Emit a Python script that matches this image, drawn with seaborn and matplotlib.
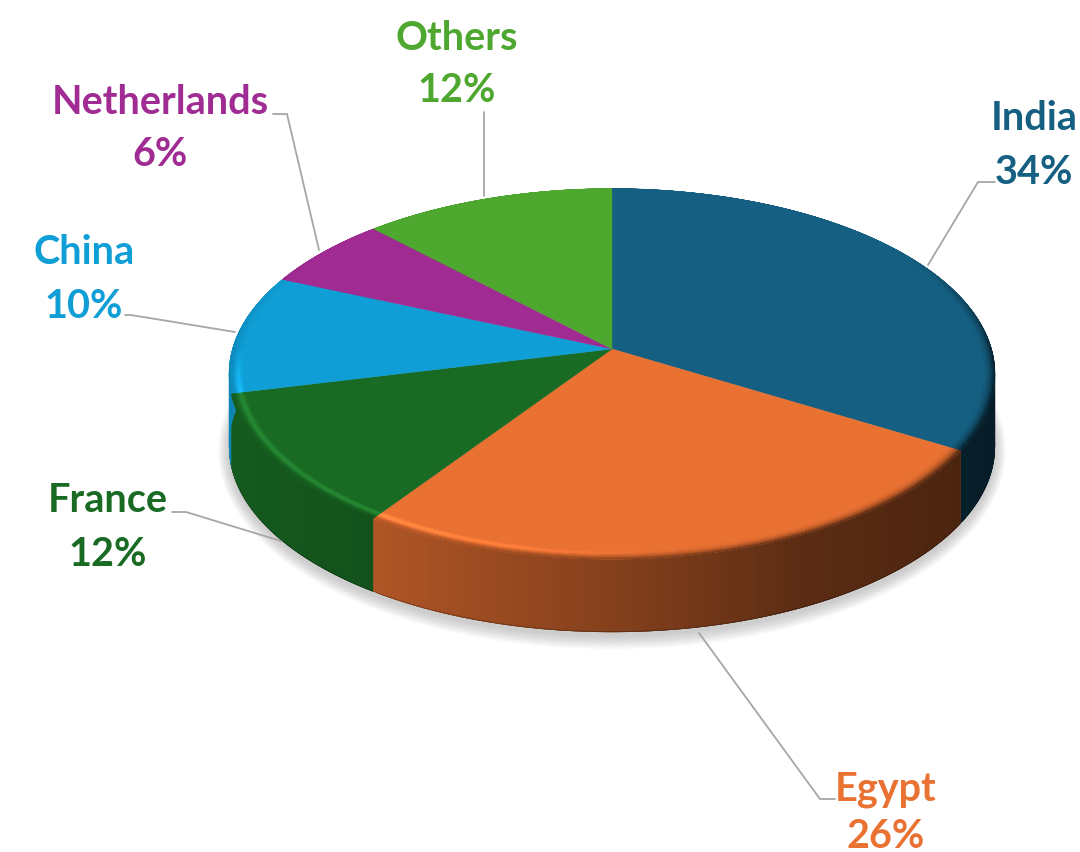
import numpy as np
import matplotlib
matplotlib.use("Agg")
import matplotlib.pyplot as plt
from matplotlib.collections import PolyCollection
from matplotlib.colors import to_rgb
import seaborn as sns

categories = ["India", "Egypt", "France", "China", "Netherlands", "Others"]
shares = [33.7, 25.75, 11.75, 10.4, 6.3, 12.1]
slice_colors = ["#156082", "#E97132", "#196B24", "#0F9ED5", "#A02B93", "#4EA72E"]

sns.set_theme(style="white")
plt.rcParams["font.family"] = ["Lato", "DejaVu Sans"]
palette = sns.color_palette(slice_colors)

W, H = 1080, 852
CX, CY, RX, RY, K, DEPTH = 612.0, 349.0, 379.6, 182.0, 0.134, 73.0


def project(theta_deg, r=1.0, drop=0.0):
    th = np.radians(theta_deg)
    u, v = r * np.cos(th), r * np.sin(th)
    s = 1.0 / (1.0 + K * v)
    return np.column_stack([CX + RX * u * s, CY + drop - RY * v * s])


def arc(t1, t2, step=0.5):
    n = max(2, int(abs(t2 - t1) / step) + 1)
    return np.linspace(t1, t2, n)


def side_factor(theta_deg):
    u = np.cos(np.radians(theta_deg))
    return np.interp(u, [-1, -0.6, 0, 0.45, 1], [0.85, 0.77, 0.57, 0.39, 0.30])


fig = plt.figure(figsize=(W / 100, H / 100), dpi=100)
ax = fig.add_axes([0, 0, 1, 1])
wedges, _ = ax.pie(shares, startangle=90, counterclock=False, colors=palette, radius=1)
spans = [(w.theta1, w.theta2) for w in wedges]
for w in wedges:
    w.remove()
ax.set_aspect("auto")
ax.set_xlim(0, W)
ax.set_ylim(H, 0)
ax.axis("off")

# soft shadow under the disc
ring = arc(0, 360, 2)
for i in range(14):
    pts = project(ring, 1.0, DEPTH)
    cx0, cy0 = CX, CY + DEPTH + 25
    pts = np.column_stack([cx0 + (pts[:, 0] - cx0) * (1 + 0.0022 * i),
                           cy0 + (pts[:, 1] - cy0) * (1 + 0.0055 * i) + 4])
    ax.fill(pts[:, 0], pts[:, 1], color="#606060", alpha=0.022, lw=0, zorder=1)

# extruded side: overlapping strips, so no seams show between them
levels = [0.0, 0.955, 1.0]
for j in range(2):
    quads, cols = [], []
    for (t1, t2), col in zip(spans, palette):
        base = np.array(to_rgb(col))
        th = arc(t1, t2, 0.5)
        for a, b in zip(th[:-1], th[1:]):
            f = side_factor((a + b) / 2)
            ends = np.array([a, min(b + 1.0, t2)])
            p = project(ends, 1.0, DEPTH * levels[j])
            q = project(ends, 1.0, DEPTH * levels[j + 1] + (0 if j else 2))
            quads.append([p[0], p[1], q[1], q[0]])
            cols.append(base * f * (1.0 if j == 0 else 0.78))
    ax.add_collection(PolyCollection(quads, facecolors=cols, linewidths=0, zorder=2 + 0.1 * (1 - j)))

# flat top faces
for (t1, t2), col in zip(spans, palette):
    th = arc(t1, t2, 0.5)
    rim = project(th)
    centre = project(np.array([0.0]), 0.0)
    pts = np.vstack([centre, rim])
    ax.fill(pts[:, 0], pts[:, 1], color=col, lw=0.3, ec=col, zorder=3)

# bevel along the front rim
radii = np.linspace(0.962, 1.0, 11)
quads, cols = [], []
for k in range(len(radii) - 1):
    for (t1, t2), col in zip(spans, palette):
        base = np.array(to_rgb(col))
        th = arc(t1, t2, 0.5)
        for a, b in zip(th[:-1], th[1:]):
            m = (a + b) / 2
            u, v = np.cos(np.radians(m)), np.sin(np.radians(m))
            fade = np.clip((0.55 - v) / 0.6, 0, 1)
            glow = np.clip((0.15 - u) / 0.7, 0, 1) * np.clip((0.02 - v) / 0.3, 0, 1)
            dark = base * side_factor(m)
            t = (k + 0.5) / (len(radii) - 1)
            c = base + (dark - base) * t ** 2.5
            c = c + (base * 0.22 + 0.03) * glow * np.sin(np.pi * min(t * 1.3, 1)) ** 2
            c = base + (c - base) * fade
            ends = np.array([a, min(b + 1.0, t2)])
            p = project(ends, radii[k])
            q = project(ends, radii[k + 1] + (0.003 if k < len(radii) - 2 else 0))
            quads.append([p[0], p[1], q[1], q[0]])
            cols.append(np.clip(c, 0, 1))
ax.add_collection(PolyCollection(quads, facecolors=cols, linewidths=0, zorder=4))

# data labels and leader lines
label_xy = {
    "India": (1034, 119, 172),
    "Egypt": (886, 790, 837),
    "France": (108, 501, 554),
    "China": (84, 253, 306),
    "Netherlands": (160, 103, 155),
    "Others": (457, 38, 91),
}
leaders = {
    "India": [(995, 182), (978, 182), (928, 265)],
    "Egypt": [(835, 799), (820, 799), (699, 633)],
    "France": [(172, 512), (186, 512), (281, 541)],
    "China": [(125, 315), (131, 315), (235, 332)],
    "Netherlands": [(273, 114), (287, 114), (319, 250)],
    "Others": [(484, 112), (484, 196)],
}
for name, share, col in zip(categories, shares, palette):
    x, y1, y2 = label_xy[name]
    ax.text(x, y1, name, color=col, fontsize=28.5, fontweight="bold", ha="center", va="center", zorder=6)
    ax.text(x, y2, f"{share:.0f}%", color=col, fontsize=28.5, fontweight="bold", ha="center", va="center", zorder=6)
    xs, ys = zip(*leaders[name])
    ax.plot(xs, ys, color="#a6a6a6", lw=1.3, zorder=5, solid_joinstyle="miter")

fig.savefig("out.png", dpi=100, facecolor="white")
